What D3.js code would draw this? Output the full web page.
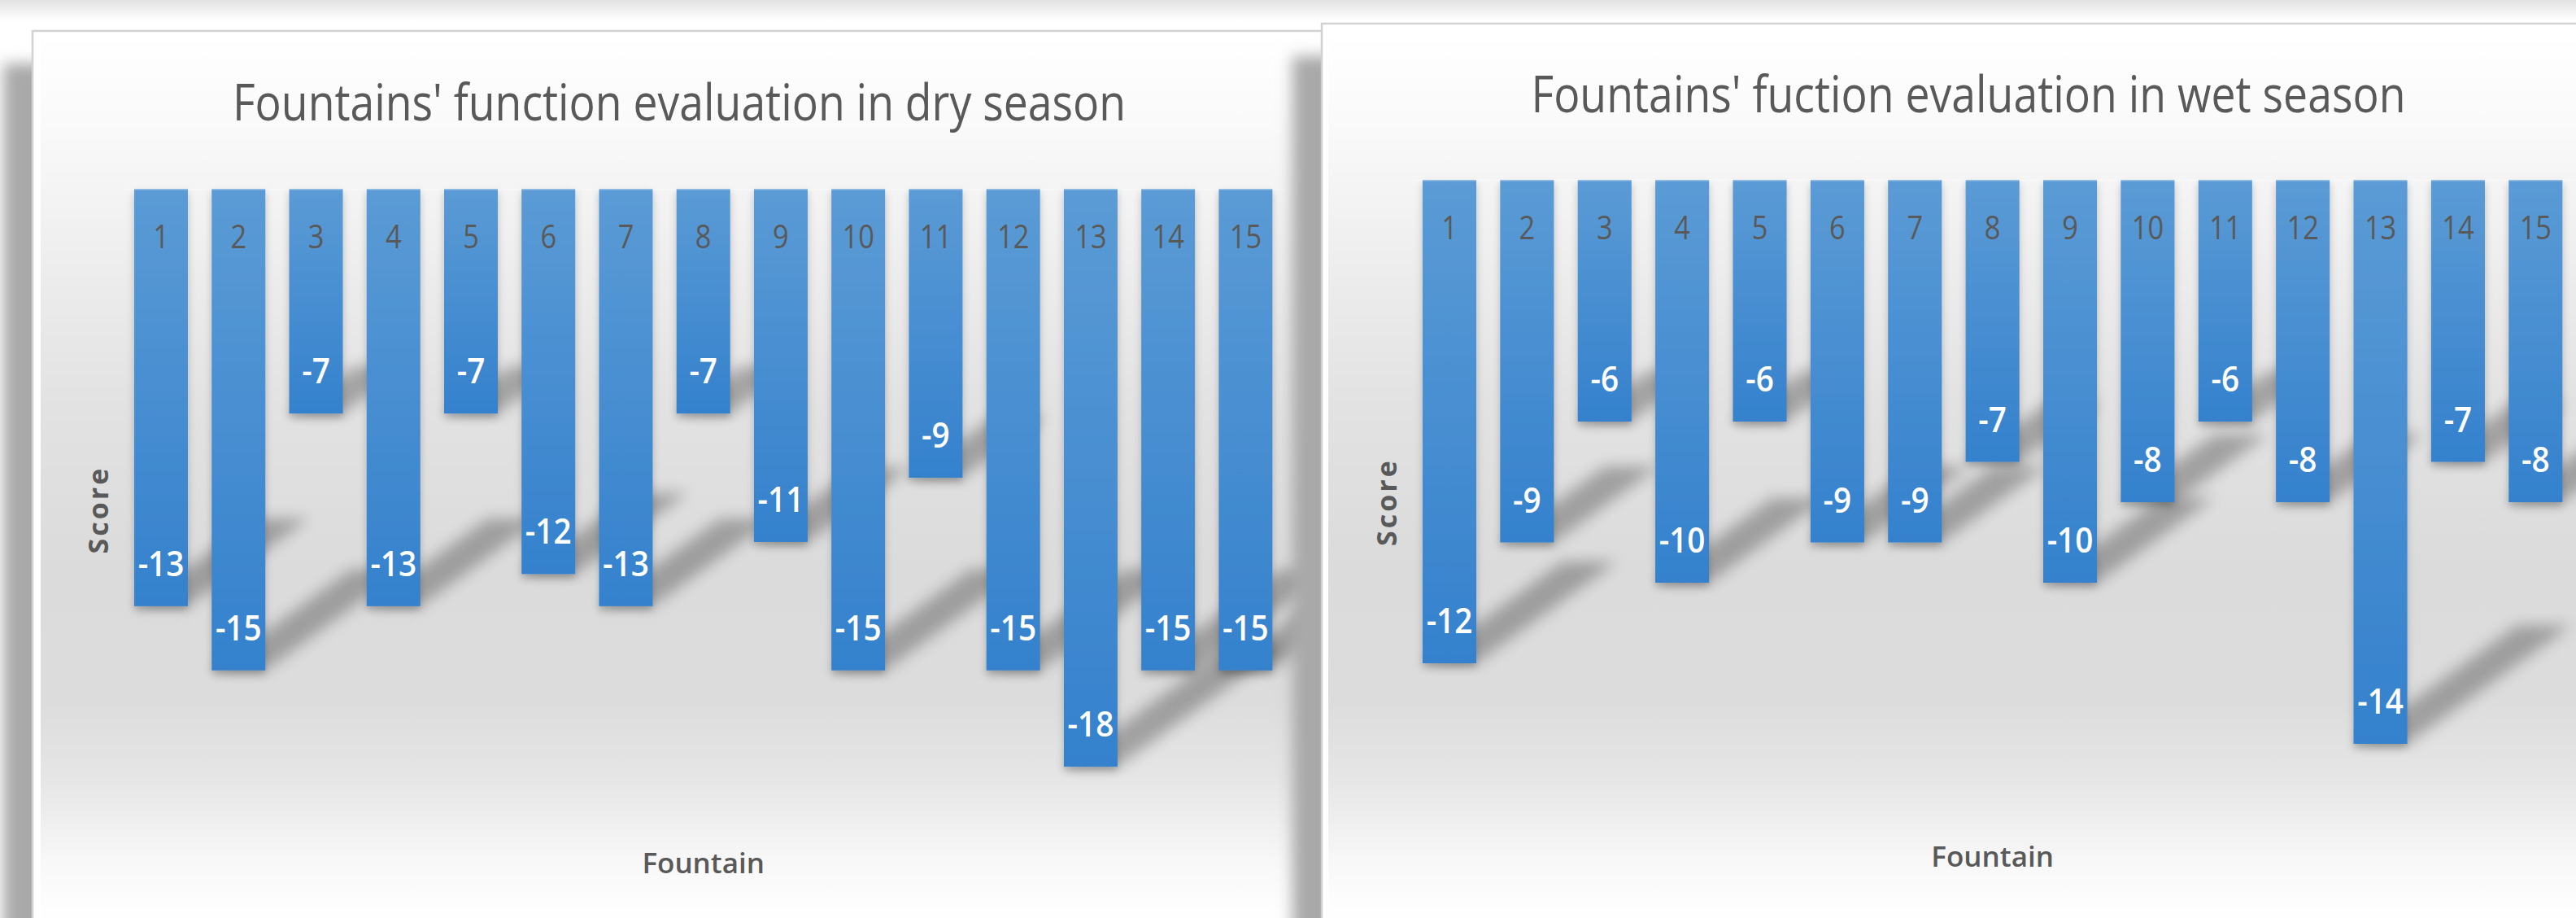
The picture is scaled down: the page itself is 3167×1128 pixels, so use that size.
<!DOCTYPE html>
<html>
<head>
<meta charset="utf-8">
<script src="https://cdn.jsdelivr.net/npm/d3@7"></script>
<style>
  html, body { margin: 0; padding: 0; background: #fff; overflow: hidden; }
  svg { display: block; font-family: 'Open Sans', 'Noto Sans', sans-serif; }
</style>
</head>
<body>
<svg id="chart" width="3167" height="1128"></svg>
<script>
// data
const fountains = ['1', '2', '3', '4', '5', '6', '7', '8', '9', '10', '11', '12', '13', '14', '15']
const dryScores = [-13, -15, -7, -13, -7, -12, -13, -7, -11, -15, -9, -15, -18, -15, -15]
const wetScores = [-12, -9, -6, -10, -6, -9, -9, -7, -10, -8, -6, -8, -14, -7, -8]
const dryTitle = "Fountains' function evaluation in dry season"
const wetTitle = "Fountains' fuction evaluation in wet season"
const dryDomain = [-20, 0]
const wetDomain = [-16, 0]
const xTitle = 'Fountain'
const yTitle = 'Score'

const W = 3167
const H = 1128
const svg = d3.select('#chart')
const defs = svg.append('defs')

// grey haze along the top edge of the page
const haze = defs.append('linearGradient').attr('id', 'haze')
  .attr('x1', 0).attr('y1', 0).attr('x2', 0).attr('y2', 1)
haze.append('stop').attr('offset', 0).attr('stop-color', '#e2e2e2')
haze.append('stop').attr('offset', 1).attr('stop-color', '#ffffff')
svg.append('rect').attr('width', W).attr('height', 26).attr('fill', 'url(#haze)')

// chart area fill: white -> grey -> white
const area = defs.append('linearGradient').attr('id', 'areaFill')
  .attr('gradientUnits', 'userSpaceOnUse')
  .attr('x1', 0).attr('y1', 0).attr('x2', 0).attr('y2', H)
;[[40, '#ffffff'], [150, '#fafafa'], [330, '#ededed'], [500, '#e2e2e2'], [700, '#dbdbdb'],
  [860, '#dcdcdc'], [950, '#e5e5e5'], [1010, '#efefef'], [1060, '#f8f8f8'], [1120, '#fefefe']]
  .forEach(s => area.append('stop').attr('offset', s[0] / H).attr('stop-color', s[1]))

const barFill = defs.append('linearGradient').attr('id', 'barFill')
  .attr('x1', 0).attr('y1', 0).attr('x2', 0).attr('y2', 1)
barFill.append('stop').attr('offset', 0).attr('stop-color', '#5b9bd5')
barFill.append('stop').attr('offset', 1).attr('stop-color', '#3481cd')

defs.append('filter').attr('id', 'panelShadow')
  .attr('x', '-10%').attr('y', '-10%').attr('width', '120%').attr('height', '120%')
  .append('feGaussianBlur').attr('stdDeviation', 9)
defs.append('filter').attr('id', 'floorShadow')
  .attr('x', '-50%').attr('y', '-50%').attr('width', '200%').attr('height', '200%')
  .append('feGaussianBlur').attr('stdDeviation', 9)
defs.append('filter').attr('id', 'barShadow')
  .attr('x', '-30%').attr('y', '-10%').attr('width', '160%').attr('height', '130%')
  .append('feDropShadow').attr('dx', 0).attr('dy', 5).attr('stdDeviation', 5)
  .attr('flood-color', '#000').attr('flood-opacity', 0.22)

const panels = [
  { id: 'dry', title: dryTitle, scores: dryScores, domain: dryDomain,
    x: 40, y: 38, w: 1660, h: 1200, inset: 10,
    plot: [150.4, 1579, 232, 1021],
    titleX: 835, titleY: 148, titleW: 1098,
    scoreX: 121, fountainY: 1073 },
  { id: 'wet', title: wetTitle, scores: wetScores, domain: wetDomain,
    x: 1625, y: 29, w: 1600, h: 1200, inset: 8,
    plot: [1734.3, 3165, 221, 1013],
    titleX: 2420, titleY: 138, titleW: 1075,
    scoreX: 1705, fountainY: 1065 }
]

function drawPanel (p) {
  const g = svg.append('g').attr('class', 'panel-' + p.id)

  g.append('rect')
    .attr('x', p.x - 36).attr('y', p.y + 40)
    .attr('width', p.w).attr('height', p.h)
    .attr('fill', '#a9a9a9')
    .attr('filter', 'url(#panelShadow)')

  g.append('rect')
    .attr('x', p.x).attr('y', p.y).attr('width', p.w).attr('height', p.h)
    .attr('fill', '#fff').attr('stroke', '#d2d2d2').attr('stroke-width', 2.5)
  g.append('rect')
    .attr('x', p.x + p.inset).attr('y', p.y + 3)
    .attr('width', p.w - p.inset).attr('height', p.h)
    .attr('fill', 'url(#areaFill)')

  defs.append('clipPath').attr('id', 'clip-' + p.id)
    .append('rect').attr('x', p.x + 2).attr('y', p.y + 2).attr('width', p.w).attr('height', p.h)
  const inner = g.append('g').attr('clip-path', `url(#clip-${p.id})`)

  const [left, right, top, bottom] = p.plot
  const x = d3.scaleBand().domain(fountains).range([left, right])
    .paddingInner(0.307).paddingOuter(0.1535)
  const y = d3.scaleLinear().domain(p.domain).range([bottom, top])
  const bw = x.bandwidth()

  // perspective shadows cast up and to the right of each bar
  inner.append('g')
    .selectAll('path')
    .data(p.scores)
    .join('path')
    .attr('d', (d, i) => {
      const x0 = x(fountains[i])
      const x1 = x0 + bw
      const yb = y(d)
      const h = yb - y(0)
      const dx = 0.29 * h
      const dy = -0.21 * h
      return `M${x0},${yb}L${x1},${yb}L${x1 + dx},${yb + dy}L${x0 + dx},${yb + dy}Z`
    })
    .attr('fill', '#000')
    .attr('opacity', 0.28)
    .attr('filter', 'url(#floorShadow)')

  inner.append('g')
    .selectAll('rect')
    .data(p.scores)
    .join('rect')
    .attr('x', (d, i) => x(fountains[i]))
    .attr('y', y(0))
    .attr('width', bw)
    .attr('height', d => y(d) - y(0))
    .attr('fill', 'url(#barFill)')
    .attr('filter', 'url(#barShadow)')

  const axis = inner.append('g')
    .attr('transform', `translate(0,${y(0)})`)
    .call(d3.axisBottom(x).tickSize(0).tickSizeOuter(0))
  axis.select('.domain').attr('stroke', '#ffffff').attr('stroke-opacity', 0.35).attr('stroke-width', 2)
  axis.selectAll('.tick text')
    .attr('y', 73).attr('dy', 0)
    .attr('transform', 'scale(0.86,1)')
    .attr('fill', '#595959')
    .style('font-family', "'Open Sans', sans-serif")
    .style('font-size', '40px')
    .style('font-weight', 400)

  inner.append('g')
    .selectAll('g')
    .data(p.scores)
    .join('g')
    .attr('transform', (d, i) => `translate(${x(fountains[i]) + bw / 2},${y(d) - 37})`)
    .append('text')
    .attr('transform', 'scale(0.88,1)')
    .attr('text-anchor', 'middle')
    .attr('fill', '#fff')
    .style('font-size', '44px')
    .style('font-weight', 600)
    .text(d => d)

  inner.append('text')
    .attr('x', p.titleX).attr('y', p.titleY)
    .attr('text-anchor', 'middle')
    .attr('textLength', p.titleW)
    .attr('lengthAdjust', 'spacingAndGlyphs')
    .attr('fill', '#595959')
    .style('font-size', '62px')
    .style('font-weight', 400)
    .text(p.title)

  inner.append('text')
    .attr('transform', `translate(${p.scoreX},${(top + bottom) / 2}) rotate(-90)`)
    .attr('text-anchor', 'middle')
    .attr('dy', '0.36em')
    .attr('fill', '#595959')
    .style('font-size', '34px')
    .style('font-weight', 700)
    .style('letter-spacing', '3px')
    .text(yTitle)

  inner.append('text')
    .attr('x', (left + right) / 2).attr('y', p.fountainY)
    .attr('text-anchor', 'middle')
    .attr('fill', '#595959')
    .style('font-size', '35px')
    .style('font-weight', 600)
    .text(xTitle)
}

panels.forEach(drawPanel)
</script>
</body>
</html>
